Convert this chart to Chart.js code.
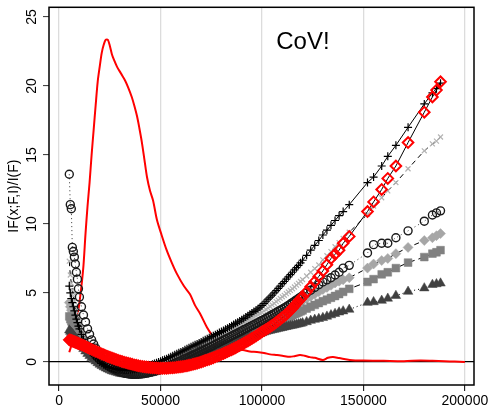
<!DOCTYPE html>
<html>
<head>
<meta charset="utf-8">
<script src="https://cdn.jsdelivr.net/npm/chart.js@4"></script>
<style>
  html, body { margin: 0; padding: 0; background: #fff; }
  #wrap { width: 492px; height: 407px; }
</style>
</head>
<body>
<div id="wrap"><canvas id="ifChart" width="492" height="407"></canvas></div>
<script>
// sample incomes (thousands) where the influence functions are evaluated
const incomesK = [
  5, 5.5, 6, 6.5, 7, 7.5, 8, 8.5, 9, 9.5,
  10, 11, 12, 13, 14, 15, 16, 17, 18, 19,
  20, 21, 22, 23, 24, 25, 26, 27, 28, 29,
  30, 31, 32, 33, 34, 35, 36, 37, 38, 39,
  40, 41, 42, 43, 44, 45, 46, 47, 48, 49,
  50, 51, 52, 53, 54, 55, 56, 57, 58, 59,
  60, 61, 62, 63, 64, 65, 66, 67, 68, 69,
  70, 71, 72, 73, 74, 75, 76, 77, 78, 79,
  80, 81, 82, 83, 84, 85, 86, 87, 88, 89,
  90, 91, 92, 93, 94, 95, 96, 97, 98, 99,
  100, 101, 102, 103, 104, 105, 106, 107, 108, 109,
  110, 111, 112, 113, 114, 115, 116, 117, 118, 119,
  120,
  122, 124, 126, 128, 130, 132, 134, 136, 138, 140,
  143, 152, 155, 159, 162, 166, 172, 180, 184, 186, 188
];

const ifPlus = [
  5.5, 5.0, 4.6, 4.3, 4.0, 3.7, 3.4, 3.1, 2.85, 2.6,
  2.4, 2.0, 1.65, 1.35, 1.1, 0.85, 0.65, 0.45, 0.3, 0.15,
  0.0, -0.1, -0.2, -0.28, -0.35, -0.4, -0.45, -0.49, -0.52, -0.54,
  -0.56, -0.57, -0.58, -0.58, -0.58, -0.57, -0.55, -0.53, -0.5, -0.47,
  -0.44, -0.4, -0.36, -0.32, -0.27, -0.22, -0.17, -0.12, -0.06, 0.0,
  0.06, 0.12, 0.18, 0.24, 0.31, 0.38, 0.45, 0.52, 0.59, 0.66,
  0.73, 0.8, 0.88, 0.95, 1.03, 1.1, 1.17, 1.24, 1.31, 1.38,
  1.45, 1.53, 1.6, 1.68, 1.75, 1.83, 1.9, 1.98, 2.05, 2.13,
  2.2, 2.28, 2.37, 2.45, 2.54, 2.62, 2.71, 2.8, 2.88, 2.96,
  3.05, 3.15, 3.25, 3.35, 3.45, 3.55, 3.65, 3.75, 3.85, 3.97,
  4.1, 4.25, 4.4, 4.55, 4.7, 4.85, 5.0, 5.17, 5.33, 5.5,
  5.67, 5.83, 6.0, 6.17, 6.33, 6.5, 6.67, 6.83, 7.0, 7.18,
  7.37,
  7.73, 8.1, 8.45, 8.8, 9.2, 9.55, 9.9, 10.25, 10.6, 10.9,
  11.4, 13.0, 13.4, 14.2, 14.9, 15.7, 17.0, 18.7, 19.5, 19.8, 20.2
];

const ifCross = [
  7.3, 6.3, 5.7, 5.2, 4.8, 4.4, 4.0, 3.7, 3.4, 3.1,
  2.85, 2.4, 2.0, 1.65, 1.35, 1.1, 0.85, 0.65, 0.45, 0.3,
  0.15, 0.0, -0.1, -0.2, -0.28, -0.35, -0.42, -0.47, -0.52, -0.56,
  -0.6, -0.62, -0.64, -0.65, -0.66, -0.66, -0.65, -0.64, -0.62, -0.6,
  -0.57, -0.54, -0.5, -0.46, -0.42, -0.37, -0.32, -0.27, -0.22, -0.17,
  -0.11, -0.05, 0.0, 0.06, 0.12, 0.18, 0.25, 0.31, 0.38, 0.44,
  0.51, 0.58, 0.65, 0.72, 0.79, 0.86, 0.93, 1.0, 1.08, 1.15,
  1.23, 1.3, 1.38, 1.45, 1.53, 1.6, 1.68, 1.75, 1.83, 1.9,
  1.98, 2.05, 2.13, 2.2, 2.28, 2.35, 2.43, 2.5, 2.58, 2.65,
  2.73, 2.81, 2.9, 2.98, 3.07, 3.15, 3.24, 3.33, 3.42, 3.51,
  3.6, 3.7, 3.8, 3.9, 4.02, 4.13, 4.25, 4.37, 4.48, 4.6,
  4.72, 4.83, 4.95, 5.07, 5.18, 5.3, 5.43, 5.57, 5.7, 5.83,
  5.97,
  6.23, 6.5, 6.77, 7.03, 7.4, 7.7, 8.0, 8.35, 8.65, 8.95,
  9.4, 10.7, 11.3, 11.9, 12.4, 13.0, 14.0, 15.3, 15.8, 16.0, 16.3
];

const ifRed = [
  1.6, 1.57, 1.55, 1.52, 1.49, 1.46, 1.43, 1.4, 1.37, 1.34,
  1.31, 1.25, 1.19, 1.12, 1.05, 0.98, 0.91, 0.84, 0.77, 0.71,
  0.65, 0.58, 0.52, 0.46, 0.4, 0.34, 0.29, 0.23, 0.18, 0.13,
  0.08, 0.03, -0.01, -0.05, -0.09, -0.13, -0.17, -0.21, -0.24, -0.27,
  -0.3, -0.33, -0.35, -0.37, -0.39, -0.41, -0.42, -0.43, -0.44, -0.45,
  -0.45, -0.45, -0.45, -0.45, -0.44, -0.43, -0.42, -0.41, -0.39, -0.37,
  -0.35, -0.33, -0.3, -0.27, -0.24, -0.21, -0.17, -0.13, -0.09, -0.05,
  0.0, 0.05, 0.1, 0.15, 0.2, 0.25, 0.31, 0.37, 0.43, 0.49,
  0.55, 0.61, 0.68, 0.75, 0.82, 0.89, 0.96, 1.03, 1.11, 1.19,
  1.27, 1.35, 1.44, 1.52, 1.61, 1.7, 1.79, 1.88, 1.98, 2.08,
  2.18, 2.27, 2.36, 2.45, 2.55, 2.65, 2.75, 2.87, 2.98, 3.1,
  3.22, 3.33, 3.45, 3.6, 3.75, 3.9, 4.07, 4.23, 4.4, 4.57,
  4.73,
  5.08, 5.45, 5.82, 6.2, 6.6, 7.05, 7.5, 7.8, 8.1, 8.6,
  9.1, 10.9, 11.6, 12.5, 13.3, 14.2, 15.9, 18.1, 19.2, 19.7, 20.3
];

const ifCircle = [
  13.6, 11.4, 11.1, 8.3, 8.0, 7.6, 7.1, 6.5, 6.0, 5.3,
  4.7, 4.0, 3.4, 2.9, 2.4, 2.0, 1.6, 1.3, 1.0, 0.7,
  0.45, 0.25, 0.05, -0.1, -0.25, -0.36, -0.45, -0.53, -0.6, -0.66,
  -0.72, -0.76, -0.8, -0.83, -0.86, -0.88, -0.9, -0.9, -0.9, -0.89,
  -0.88, -0.86, -0.84, -0.81, -0.78, -0.74, -0.7, -0.66, -0.62, -0.57,
  -0.52, -0.47, -0.42, -0.36, -0.3, -0.24, -0.18, -0.11, -0.05, 0.02,
  0.08, 0.15, 0.22, 0.29, 0.36, 0.43, 0.5, 0.57, 0.64, 0.71,
  0.78, 0.85, 0.92, 0.99, 1.06, 1.13, 1.2, 1.28, 1.35, 1.43,
  1.5, 1.58, 1.65, 1.73, 1.8, 1.88, 1.95, 2.03, 2.1, 2.18,
  2.25, 2.33, 2.4, 2.48, 2.55, 2.63, 2.7, 2.78, 2.85, 2.93,
  3.0, 3.08, 3.17, 3.25, 3.33, 3.42, 3.5, 3.58, 3.67, 3.75,
  3.83, 3.92, 4.0, 4.1, 4.2, 4.3, 4.4, 4.5, 4.6, 4.7,
  4.8,
  5.0, 5.2, 5.4, 5.6, 5.8, 5.95, 6.1, 6.3, 6.5, 6.8,
  7.0, 7.9, 8.5, 8.6, 8.6, 9.0, 9.5, 10.2, 10.65, 10.8, 10.95
];

const ifDiamond = [
  4.3, 4.0, 3.75, 3.55, 3.35, 3.15, 2.95, 2.75, 2.55, 2.37,
  2.2, 1.9, 1.6, 1.35, 1.12, 0.92, 0.73, 0.56, 0.4, 0.26,
  0.12, 0.0, -0.11, -0.21, -0.3, -0.38, -0.46, -0.52, -0.58, -0.63,
  -0.68, -0.72, -0.75, -0.78, -0.8, -0.82, -0.83, -0.84, -0.84, -0.84,
  -0.83, -0.82, -0.8, -0.78, -0.75, -0.72, -0.69, -0.66, -0.62, -0.58,
  -0.54, -0.5, -0.45, -0.4, -0.35, -0.3, -0.24, -0.18, -0.12, -0.06,
  0.0, 0.06, 0.13, 0.19, 0.26, 0.32, 0.39, 0.45, 0.52, 0.58,
  0.65, 0.71, 0.78, 0.85, 0.92, 0.99, 1.06, 1.13, 1.2, 1.27,
  1.34, 1.41, 1.48, 1.55, 1.62, 1.69, 1.76, 1.83, 1.9, 1.97,
  2.04, 2.11, 2.18, 2.25, 2.32, 2.39, 2.46, 2.54, 2.62, 2.69,
  2.76, 2.84, 2.92, 3.0, 3.08, 3.17, 3.25, 3.33, 3.42, 3.5,
  3.58, 3.67, 3.75, 3.83, 3.92, 4.0, 4.08, 4.17, 4.25, 4.33,
  4.42,
  4.58, 4.75, 4.92, 5.08, 5.25, 5.4, 5.55, 5.72, 5.85, 5.95,
  6.1, 6.8, 7.1, 7.35, 7.5, 7.85, 8.3, 8.8, 9.0, 9.15, 9.3
];

const ifSquare = [
  3.3, 3.1, 2.95, 2.8, 2.65, 2.5, 2.35, 2.2, 2.05, 1.92,
  1.8, 1.55, 1.32, 1.1, 0.9, 0.72, 0.55, 0.4, 0.26, 0.13,
  0.01, -0.1, -0.2, -0.29, -0.37, -0.44, -0.51, -0.57, -0.62, -0.67,
  -0.71, -0.74, -0.77, -0.8, -0.82, -0.83, -0.84, -0.85, -0.85, -0.85,
  -0.84, -0.83, -0.81, -0.79, -0.76, -0.73, -0.7, -0.67, -0.63, -0.59,
  -0.55, -0.51, -0.46, -0.41, -0.36, -0.31, -0.26, -0.21, -0.15, -0.1,
  -0.04, 0.02, 0.08, 0.14, 0.2, 0.26, 0.32, 0.38, 0.44, 0.5,
  0.56, 0.62, 0.68, 0.74, 0.8, 0.86, 0.92, 0.98, 1.04, 1.1,
  1.16, 1.22, 1.28, 1.34, 1.4, 1.46, 1.52, 1.58, 1.64, 1.7,
  1.76, 1.82, 1.88, 1.94, 2.0, 2.06, 2.12, 2.18, 2.25, 2.32,
  2.4, 2.47, 2.53, 2.6, 2.67, 2.73, 2.8, 2.87, 2.93, 3.0,
  3.07, 3.13, 3.2, 3.27, 3.33, 3.4, 3.47, 3.53, 3.6, 3.67,
  3.73,
  3.87, 4.0, 4.13, 4.27, 4.4, 4.52, 4.65, 4.78, 4.92, 5.08,
  5.3, 5.8, 6.0, 6.35, 6.5, 6.8, 7.2, 7.6, 7.85, 7.95, 8.1
];

const ifTriangle = [
  2.3, 2.2, 2.12, 2.05, 1.95, 1.85, 1.75, 1.65, 1.55, 1.45,
  1.35, 1.15, 0.95, 0.78, 0.6, 0.45, 0.3, 0.17, 0.05, -0.07,
  -0.18, -0.28, -0.37, -0.45, -0.52, -0.59, -0.65, -0.7, -0.75, -0.79,
  -0.83, -0.86, -0.88, -0.9, -0.92, -0.93, -0.94, -0.94, -0.94, -0.93,
  -0.92, -0.9, -0.88, -0.86, -0.83, -0.8, -0.76, -0.72, -0.68, -0.64,
  -0.59, -0.54, -0.49, -0.44, -0.38, -0.33, -0.27, -0.21, -0.15, -0.09,
  -0.03, 0.03, 0.09, 0.15, 0.21, 0.27, 0.33, 0.39, 0.45, 0.5,
  0.56, 0.61, 0.67, 0.72, 0.78, 0.83, 0.89, 0.94, 1.0, 1.05,
  1.1, 1.15, 1.2, 1.25, 1.3, 1.35, 1.4, 1.45, 1.5, 1.55,
  1.6, 1.65, 1.7, 1.75, 1.8, 1.85, 1.9, 1.95, 2.0, 2.05,
  2.1, 2.15, 2.2, 2.25, 2.28, 2.32, 2.35, 2.38, 2.42, 2.45,
  2.48, 2.52, 2.55, 2.58, 2.62, 2.65, 2.68, 2.72, 2.75, 2.78,
  2.82,
  2.9, 3.0, 3.07, 3.13, 3.2, 3.3, 3.4, 3.5, 3.6, 3.68,
  3.8, 4.3, 4.35, 4.45, 4.6, 4.8, 5.1, 5.35, 5.6, 5.65, 5.7
];

// income density, scaled to the IF axis
const densityX = [
  5000, 6000, 7000, 8000, 9000, 10000, 11000, 12000, 13000, 14000, 15000, 16000, 17000, 18000, 19000, 20000, 21000, 22000, 23000, 24000,
  25000, 26000, 27000, 28500, 30500, 32500, 34000, 35800, 37000, 38400, 39600, 40800, 42000, 43300, 44800, 46300, 48200, 50500, 53000,
  55500, 58000, 61500, 64500, 67000, 69500, 72900, 76000, 78500, 80800, 84000, 87000, 90600, 94000, 97500, 101000, 104000, 107400,
  110000, 113800, 116000, 118700, 121000, 123600, 126000, 130000, 132500, 135000, 138000, 143300, 150000, 160000, 170000, 178000,
  184000, 190000, 195000, 200000
];
const densityY = [
  0.7, 1.2, 1.8, 2.5, 3.3, 4.3, 5.5, 7.0, 9.3, 11.3, 13.0, 15.0, 16.8, 18.6, 20.3, 21.4, 22.4, 23.0, 23.35, 23.35,
  22.9, 22.3, 21.9, 21.4, 20.9, 20.4, 19.9, 19.2, 18.6, 17.8, 16.9, 15.9, 14.7, 13.4, 12.4, 11.7, 10.3, 9.2, 8.1,
  7.2, 6.4, 5.5, 4.9, 4.1, 3.5, 2.5, 1.8, 1.35, 1.1, 0.95, 0.9, 0.87, 0.75, 0.72, 0.65, 0.55, 0.5,
  0.45, 0.37, 0.42, 0.5, 0.45, 0.35, 0.3, 0.15, 0.3, 0.35, 0.28, 0.15, 0.1, 0.08, 0.06, 0.1,
  0.08, 0.05, 0.03, 0.0
];

const xTicks = [0, 50000, 100000, 150000, 200000];
const yTicks = [0, 5, 10, 15, 20, 25];
const yTitle = 'IF(x;F,I)/I(F)';
const note = 'CoV!';

const FONT = '"Liberation Sans", Arial, sans-serif';

function pts(ys) {
  return incomesK.map((k, i) => ({x: k * 1000, y: ys[i]}));
}

function series(ys, o) {
  return Object.assign({
    data: pts(ys),
    showLine: true,
    tension: 0,
    borderColor: '#000',
    borderWidth: 1,
    pointBorderWidth: 1.2,
    pointHoverRadius: 0
  }, o);
}

const datasets = [
  series(ifRed, {pointStyle: 'rectRot', pointRadius: 5.3, pointBorderColor: '#ff0000',
    pointBackgroundColor: 'rgba(0,0,0,0)', pointBorderWidth: 2}),
  series(ifPlus, {pointStyle: 'cross', pointRadius: 4, pointBorderColor: '#000'}),
  series(ifCircle, {pointStyle: 'circle', pointRadius: 4, pointBorderColor: '#1a1a1a',
    pointBackgroundColor: 'rgba(0,0,0,0)', pointBorderWidth: 1.4, borderDash: [1, 3], borderColor: '#333'}),
  series(ifCross, {pointStyle: 'crossRot', pointRadius: 3.5, pointBorderColor: '#b4b4b4', borderDash: [5, 4]}),
  series(ifTriangle, {pointStyle: 'triangle', pointRadius: 5.5, pointBorderColor: '#404040',
    pointBackgroundColor: '#404040', pointBorderWidth: 0.5, borderDash: [1, 3]}),
  series(ifSquare, {pointStyle: 'rect', pointRadius: 5.5, pointBorderColor: '#808080',
    pointBackgroundColor: '#808080', pointBorderWidth: 0.5, borderDash: [6, 4]}),
  series(ifDiamond, {pointStyle: 'rectRot', pointRadius: 5, pointBorderColor: '#a6a6a6',
    pointBackgroundColor: '#a6a6a6', pointBorderWidth: 0.5, borderDash: [5, 4]}),
  {
    data: densityX.map((x, i) => ({x: x, y: densityY[i]})),
    showLine: true,
    tension: 0.3,
    borderColor: '#ff0000',
    borderWidth: 2,
    pointRadius: 0,
    pointHoverRadius: 0
  }
];

// frame, rotated y tick labels and the note
const decorations = {
  id: 'decorations',
  afterDraw(chart) {
    const ctx = chart.ctx;
    const a = chart.chartArea;
    const xs = chart.scales.x, ys = chart.scales.y;
    ctx.save();
    ctx.strokeStyle = '#000';
    ctx.lineWidth = 1.5;
    ctx.strokeRect(a.left, a.top, a.right - a.left, a.bottom - a.top);

    ctx.fillStyle = '#000';
    ctx.font = '14px ' + FONT;
    ctx.textAlign = 'center';
    ctx.textBaseline = 'middle';
    yTicks.forEach(v => {
      ctx.save();
      ctx.translate(32, ys.getPixelForValue(v));
      ctx.rotate(-Math.PI / 2);
      ctx.fillText(String(v), 0, 0);
      ctx.restore();
    });

    ctx.font = '24px ' + FONT;
    ctx.textAlign = 'left';
    ctx.textBaseline = 'alphabetic';
    ctx.fillText(note, xs.getPixelForValue(107000), ys.getPixelForValue(22.7));
    ctx.restore();
  }
};

new Chart(document.getElementById('ifChart'), {
  type: 'scatter',
  data: {datasets: datasets},
  options: {
    responsive: false,
    animation: false,
    devicePixelRatio: 1,
    layout: {padding: {top: 7, right: 18, left: 0, bottom: 0}},
    plugins: {legend: {display: false}, tooltip: {enabled: false}},
    scales: {
      x: {
        type: 'linear',
        min: -5000,
        max: 204500,
        afterBuildTicks: s => { s.ticks = xTicks.map(v => ({value: v})); },
        afterFit: s => { s.height = 22; },
        border: {display: false},
        grid: {color: '#dcdcdc', lineWidth: 1.3, drawTicks: true, tickLength: 6, tickColor: '#000', tickWidth: 1},
        ticks: {
          color: '#000', font: {family: FONT, size: 14}, padding: 2,
          maxRotation: 0, autoSkip: false,
          callback: v => String(v)
        }
      },
      y: {
        type: 'linear',
        min: -1.67,
        max: 25.7,
        afterBuildTicks: s => { s.ticks = yTicks.map(v => ({value: v})); },
        afterFit: s => { s.width = 49; },
        border: {display: false},
        grid: {
          color: c => (c.tick && c.tick.value === 0 ? '#000' : 'rgba(0,0,0,0)'),
          lineWidth: 1.2,
          drawTicks: true, tickLength: 6, tickColor: '#333', tickWidth: 1
        },
        ticks: {display: false},
        title: {display: true, text: yTitle, color: '#000', font: {family: FONT, size: 14}, padding: {top: 6, bottom: 0}}
      }
    }
  },
  plugins: [decorations]
});
</script>
</body>
</html>
